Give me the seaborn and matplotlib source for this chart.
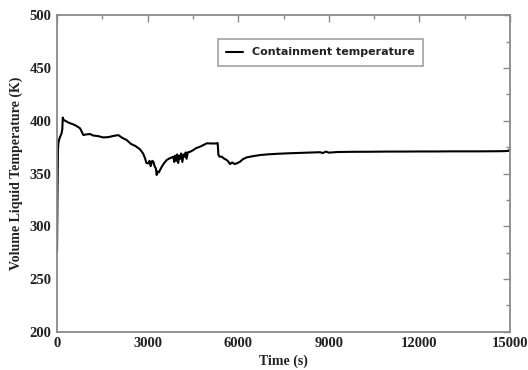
import matplotlib
matplotlib.use("Agg")
import matplotlib.pyplot as plt
from matplotlib.ticker import MultipleLocator
import seaborn as sns
import pandas as pd

# Containment temperature history
time_s = [0, 15, 30, 45, 60, 90, 120, 150, 175, 190, 210, 300, 400, 540, 650, 762,
          830, 872, 950, 1093, 1200, 1350, 1533, 1700, 1850, 2030, 2150, 2308,
          2450, 2600, 2748, 2850, 2914, 2960, 3024, 3060, 3100, 3150, 3190, 3230,
          3270, 3300, 3330, 3370, 3410, 3480, 3550, 3631, 3700, 3780, 3851, 3880,
          3910, 3950, 3980, 4010, 4050, 4080, 4110, 4150, 4190, 4230, 4260, 4290,
          4330, 4404, 4500, 4600, 4735, 4850, 4957, 5100, 5200, 5288, 5320, 5342,
          5380, 5453, 5540, 5619, 5680, 5728, 5800, 5880, 5950, 6060, 6150, 6280,
          6500, 6722, 7000, 7300, 7605, 8000, 8300, 8709, 8800, 8900, 9000, 9300,
          9600, 9900, 10200, 10600, 11000, 11500, 12000, 12500, 13000, 13500,
          14000, 14500, 14800, 14950, 15000]
temp_k = [276, 330, 372, 379, 381, 384, 386, 388, 392, 403, 401, 399.5, 398, 396.5,
          395, 392.8, 389, 386.4, 387, 387.4, 386, 385.5, 384.2, 384.5, 385.5, 386.4,
          384, 381.7, 378, 376, 372.9, 369, 364.4, 360, 359.6, 362, 357, 362, 361.2,
          357, 355, 348.6, 352, 351, 353.3, 357, 360, 362.8, 364, 365, 365.9, 361,
          367, 362, 368, 360, 367, 364, 369, 361, 368, 366, 370, 364, 370, 370.6,
          372, 374, 375.4, 377, 378.6, 378.5, 378.4, 378.6, 378.8, 368, 366, 365.9,
          364, 362.8, 361, 359, 360.5, 359, 359.6, 361.2, 363.5, 365.3, 366.5, 367.5,
          368.2, 368.7, 369.1, 369.5, 369.8, 370.2, 369.4, 370.8, 369.8, 370.4, 370.5,
          370.6, 370.6, 370.7, 370.8, 370.8, 370.9, 370.9, 371, 371, 371, 371.1,
          371.2, 371.5, 373]

df = pd.DataFrame({"Time (s)": time_s, "Temperature (K)": temp_k})

sns.set_style("white")
serif = ["Liberation Serif", "DejaVu Serif"]
plt.rcParams["font.family"] = serif

fig, ax = plt.subplots(figsize=(5.28, 3.70), dpi=100)
fig.subplots_adjust(left=0.108, right=0.966, top=0.959, bottom=0.103)

sns.lineplot(data=df, x="Time (s)", y="Temperature (K)", ax=ax, color="black",
             linewidth=1.5, label="Containment temperature")

ax.set_xlim(0, 15000)
ax.set_ylim(200, 500)
ax.xaxis.set_major_locator(MultipleLocator(3000))
ax.xaxis.set_minor_locator(MultipleLocator(1500))
ax.yaxis.set_major_locator(MultipleLocator(50))
ax.yaxis.set_minor_locator(MultipleLocator(25))

spine_color = "#8a8a8a"
for s in ax.spines.values():
    s.set_color(spine_color)
    s.set_linewidth(1.3)

ax.tick_params(which="both", direction="in", top=True, right=True,
               color=spine_color, width=1.0)
ax.tick_params(which="major", length=5, labelsize=10.5, pad=4, labelcolor="#222222")
ax.tick_params(which="minor", length=3)
for lab in ax.get_xticklabels() + ax.get_yticklabels():
    lab.set_fontweight("bold")

ax.set_xlabel("Time (s)", fontsize=10, fontweight="bold", color="#222222", labelpad=3)
ax.set_ylabel("Volume Liquid Temperature (K)", fontsize=10, fontweight="bold",
              color="#222222", labelpad=5)

leg = ax.legend(loc="upper left", bbox_to_anchor=(0.343, 0.942), frameon=True,
                fancybox=False, handlelength=1.5, borderpad=0.75,
                prop={"family": ["DejaVu Sans"], "weight": "bold", "size": 8})
leg.get_frame().set_edgecolor(spine_color)
leg.get_frame().set_linewidth(1.2)
for t in leg.get_texts():
    t.set_color("#222222")

fig.savefig("out.png", dpi=100)
